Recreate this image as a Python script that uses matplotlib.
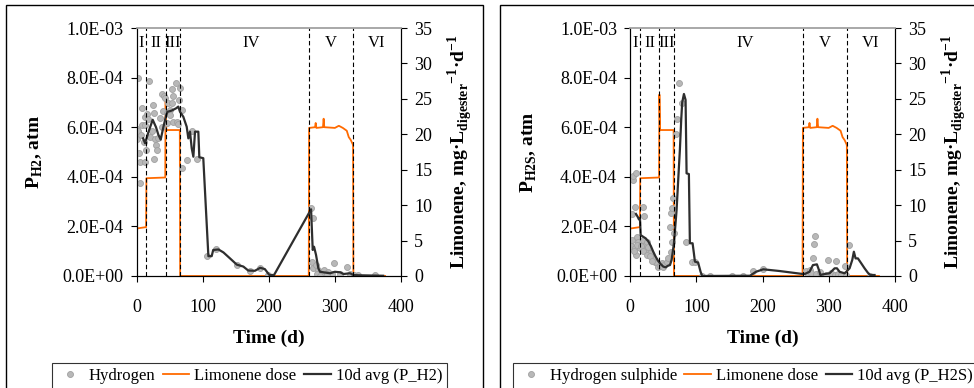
import matplotlib
matplotlib.use("Agg")
import matplotlib.pyplot as plt
from matplotlib.patches import Rectangle
from matplotlib.ticker import FuncFormatter, MultipleLocator

plt.rcParams["font.family"] = ["Liberation Serif", "DejaVu Serif"]
plt.rcParams["mathtext.fontset"] = "custom"
plt.rcParams["mathtext.rm"] = "Liberation Serif"
plt.rcParams["mathtext.bf"] = "Liberation Serif:bold"

# limonene dose (mg/L/d), same in both panels
lim_day = [0, 14.5, 15, 43.5, 44, 45, 65.5, 66, 260.5, 261,
           270, 271, 272, 282, 283, 284, 300, 306, 312, 318,
           321, 324, 327, 327.5, 328, 376]
lim_val = [6.7, 6.9, 13.8, 13.9, 25.6, 20.6, 20.6, 0, 0, 20.9,
           21.0, 21.6, 20.9, 21.0, 22.2, 21.0, 20.9, 21.2, 20.9, 20.5,
           19.6, 19.2, 18.6, 18.4, 0, 0]

# hydrogen measurements (x1e-4 atm)
h2_day = [0, 0.8, 2.3, 2.8, 4.3, 5.3, 5.3, 6.8, 7.8, 8.8,
          11.3, 12.4, 12.4, 12.4, 13.9, 16.4, 17.9, 18.9, 20.4, 23.4,
          24.5, 26.5, 27, 27.5, 29.5, 31.5, 33, 35.5, 38.1, 39.1,
          40.6, 41.1, 43.1, 45.6, 45.6, 48.1, 50.7, 50.7, 53.2, 53.2,
          55.7, 55.7, 59.3, 60.8, 62.3, 64.3, 66.3, 68.3, 69.3, 76.9,
          83.5, 91, 107, 120.3, 151.6, 171.7, 187, 199.5, 264.5, 267.5,
          266, 267.5, 271.5, 275, 272.6, 280, 283.7, 290, 298.8, 318,
          295, 307.8, 335.6, 360.8, 277.6, 287.7, 323, 329]
h2_val = [5.91, 5.52, 7.98, 5.86, 4.95, 4.6, 3.76, 5.69, 6.08, 6.76,
          5.42, 6.42, 6.08, 4.58, 5.08, 6.53, 6.32, 7.85, 5.62, 5.83,
          6.88, 6.56, 4.7, 5.52, 5.29, 5.08, 5.55, 6.38, 6.02, 7.32,
          6.65, 7.26, 7.19, 6.58, 6.16, 6.99, 6.69, 6.49, 7.54, 6.96,
          7.26, 6.22, 7.78, 6.2, 6.12, 7.1, 7.58, 6.71, 4.34, 4.68,
          5.85, 4.73, 0.81, 1.08, 0.44, 0.22, 0.31, 0.03, 2.76, 2.33,
          0.58, 0.31, 0.44, 0.24, 0.08, 0.04, 0.24, 0.17, 0.51, 0.38,
          0.08, 0.08, 0.04, 0.04, 0.0, 0.08, 0.08, 0.04]

# 10 day average of P_H2 (x1e-4 atm)
avg_h2_day = [10, 13, 18, 24.5, 29.5, 33, 36.6, 40.6, 44.6, 46.6,
              53.2, 59.8, 63.2, 65.8, 70.8, 75.9, 78.4, 80.9, 83.5, 86,
              88.5, 93.5, 95, 101, 108.7, 113.7, 116, 124, 131.5, 141,
              151.6, 161.6, 169, 179, 187, 194, 201, 208, 264, 266.5,
              268.5, 271.5, 275, 277.6, 292.7, 300, 308, 313, 323, 328,
              335.5, 373]
avg_h2_val = [5.55, 5.35, 5.8, 6.3, 6.0, 5.7, 5.5, 6.0, 6.45, 6.62,
              6.67, 6.76, 6.83, 6.62, 6.42, 6.02, 5.55, 5.82, 5.15, 4.81,
              5.82, 5.82, 4.79, 4.75, 0.8, 0.8, 1.05, 1.07, 0.95, 0.72,
              0.46, 0.38, 0.22, 0.21, 0.33, 0.28, 0.04, 0.04, 2.69, 1.05,
              1.18, 0.85, 0.31, 0.17, 0.11, 0.17, 0.15, 0.08, 0.11, 0.04,
              0.03, 0.01]

# hydrogen sulphide measurements (x1e-4 atm)
h2s_day = [0, 1.1, 2.1, 3.1, 3.6, 4.6, 7.1, 7.1, 8.2, 8.6,
           9.7, 12.1, 14.6, 17.2, 19.6, 19.6, 21.1, 22.2, 23.2, 24.8,
           26.3, 27.2, 29.7, 32.3, 34.7, 37.3, 39.8, 42.3, 44.8, 47.4,
           49.8, 52.4, 54.9, 57.4, 60.4, 61.4, 61.4, 62.5, 63.4, 64.9,
           66, 69, 70.9, 73.5, 77.6, 83.6, 92.7, 97.7, 107.8, 120.3,
           153.5, 171, 185.2, 200.3, 266.3, 268.8, 271.3, 273.9, 276.2, 277.7,
           278.8, 281.4, 286.4, 288.9, 296.4, 298.9, 304, 309, 310.5, 314,
           319.1, 324, 325.6, 330.1, 361.8, 5.5, 10.5, 16, 18.5, 25.5,
           30.5, 33.5]
h2s_val = [1.25, 1.21, 1.45, 2.5, 3.87, 4.03, 2.79, 1.12, 4.14, 0.85,
           1.56, 1.38, 1.12, 1.34, 2.79, 1.45, 2.42, 1.25, 1.05, 1.38,
           0.98, 1.18, 0.92, 0.78, 0.71, 0.58, 0.51, 0.38, 0.4, 0.51,
           0.38, 0.48, 0.58, 0.71, 1.99, 2.53, 0.98, 2.73, 1.38, 3.13,
           1.72, 5.71, 6.33, 7.8, 6.96, 1.38, 0.55, 0.58, 0, 0,
           0, 0, 0.21, 0.27, 0.21, 0.04, 0.24, 0.11, 0.71, 1.3,
           1.62, 0.08, 0.17, 0, 0.04, 0.65, 0.13, 0.04, 0.62, 0.08,
           0.04, 0.4, 0.04, 1.25, 0, 1.0, 1.25, 1.2, 1.0, 0.85,
           0.8, 0.62]

# 10 day average of P_H2S (x1e-4 atm)
avg_h2s_day = [8.6, 11.1, 13.1, 14.6, 15.7, 19.6, 23.2, 27.2, 31.2,
               34.7, 38.3, 42.3, 46.3, 49.8, 53.4, 57.4, 60, 62.5, 66,
               70, 72.5, 75, 77, 78.5, 81.1, 83.6, 85.1, 88.6, 90.1,
               94.2, 96.2, 97.7, 102.6, 106.3, 108.7, 181, 190, 201, 226,
               261, 263.7, 271, 276.2, 282.2, 285.3, 287.4, 293.9, 301.4, 309,
               312.5, 316.5, 324, 326.6, 331.6, 335.7, 338.1, 340.7, 344.2, 349.3,
               354.3, 359.3, 362.9, 369.4]
avg_h2s_val = [2.5, 2.39, 2.28, 2.33, 1.65, 1.58, 1.52, 1.4, 1.2,
               0.98, 0.78, 0.6, 0.47, 0.38, 0.35, 0.42, 0.44, 0.65, 1.32,
               2.66, 3.9, 5.1, 6.3, 7.0, 7.34, 7.1, 4.14, 4.11, 1.32,
               1.32, 0.91, 0.58, 0.54, 0.17, 0.0, 0.01, 0.17, 0.27, 0.2,
               0.08, 0.08, 0.17, 0.44, 0.47, 0.24, 0.04, 0.08, 0.11, 0.31,
               0.31, 0.17, 0.11, 0.17, 0.31, 0.65, 0.98, 0.71, 0.71, 0.51,
               0.31, 0.13, 0.04, 0.04]

phase_edges = [15, 44, 66, 261, 328]
phase_names = ["I", "II", "III", "IV", "V", "VI"]
phase_pos = [7, 29, 55, 173, 294, 363]

ORANGE = "#ff6a00"
DARK = "#2e2e2e"
W, H = 974, 388


def draw_panel(x0, gas_day, gas_val, avg_day, avg_val, gas_name, sub):
    ax = fig.add_axes([x0 / W, 1 - 276 / H, 264.5 / W, 248 / H])
    ax2 = ax.twinx()
    ax.set_zorder(ax2.get_zorder() + 1)
    ax.patch.set_visible(False)

    ax2.plot(lim_day, lim_val, color=ORANGE, lw=1.3, label="Limonene dose")
    ax.plot(gas_day, [v * 1e-4 for v in gas_val], "o", ms=4.3,
            mfc="#b8b8b8", mec="#a0a0a0", mew=0.6, label=gas_name)
    ax.plot(avg_day, [v * 1e-4 for v in avg_val], color=DARK, lw=1.6,
            label="10d avg (P_%s)" % sub)

    for e in phase_edges:
        ax.plot([e, e], [0, 1e-3], color="k", lw=0.8, ls=(0, (4, 2.5)))
    for name, p in zip(phase_names, phase_pos):
        ax.text(p, 0.94e-3, name, ha="center", va="center", fontsize=12)

    ax.set_xlim(0, 400)
    ax.set_ylim(0, 1e-3)
    ax2.set_ylim(0, 35)
    ax.xaxis.set_major_locator(MultipleLocator(100))
    ax.yaxis.set_major_locator(MultipleLocator(2e-4))
    ax.yaxis.set_major_formatter(FuncFormatter(lambda v, p: "%.1E" % v))
    ax2.yaxis.set_major_locator(MultipleLocator(5))

    ax.tick_params(axis="x", direction="out", length=4.5, width=0.8,
                   labelsize=13, pad=12)
    ax.tick_params(axis="y", direction="out", length=4.5, width=0.8,
                   labelsize=13, pad=5)
    ax2.tick_params(axis="y", direction="out", length=4.5, width=0.8,
                    labelsize=13, pad=5)
    for a in (ax, ax2):
        a.spines["top"].set_color("#a8a8a8")
        a.spines["top"].set_linewidth(1.2)
        a.spines["left"].set_linewidth(0.8)
        a.spines["right"].set_linewidth(0.8)
        a.spines["bottom"].set_linewidth(0.8)

    ax.set_xlabel("Time (d)", fontsize=14, fontweight="bold", labelpad=10)
    ax.set_ylabel(r"P$_{\mathbf{%s}}$, atm" % sub, fontsize=14,
                  fontweight="bold")
    ax.yaxis.set_label_coords(-0.345, 0.5)
    ax2.set_ylabel(r"Limonene, mg·L$_{\mathbf{digester}}$$^{\mathbf{-1}}$·d$^{\mathbf{-1}}$",
                   fontsize=14, fontweight="bold")
    ax2.yaxis.set_label_coords(1.17, 0.5)

    h1, l1 = ax.get_legend_handles_labels()
    h2, l2 = ax2.get_legend_handles_labels()
    handles = [h1[0], h2[0], h1[1]]
    labels = [l1[0], l2[0], l1[1]]
    return ax, handles, labels


fig = plt.figure(figsize=(W / 100, H / 100), dpi=100)

fig.add_artist(Rectangle((6 / W, -0.05), 477 / W, 1.037, transform=fig.transFigure,
                         fill=False, lw=1.0, ec="k"))
fig.add_artist(Rectangle((500 / W, -0.05), 0.6, 1.037, transform=fig.transFigure,
                         fill=False, lw=1.0, ec="k"))

ax_l, hl, ll = draw_panel(136.5, h2_day, h2_val, avg_h2_day, avg_h2_val,
                          "Hydrogen", "H2")
ax_r, hr, lr = draw_panel(630.3, h2s_day, h2s_val, avg_h2s_day, avg_h2s_val,
                          "Hydrogen sulphide", "H2S")

for handles, labels, lx in ((hl, ll, 52), (hr, lr, 513)):
    leg = fig.legend(handles, labels, loc="upper left",
                     bbox_to_anchor=(lx / W, 1 - 363 / H), ncol=3,
                     fontsize=12, frameon=True, fancybox=False,
                     handlelength=1.6, handletextpad=0.3, columnspacing=0.45,
                     borderpad=0.3, borderaxespad=0)
    leg.get_frame().set_edgecolor("k")
    leg.get_frame().set_linewidth(0.8)

fig.savefig("out.png", dpi=100)
